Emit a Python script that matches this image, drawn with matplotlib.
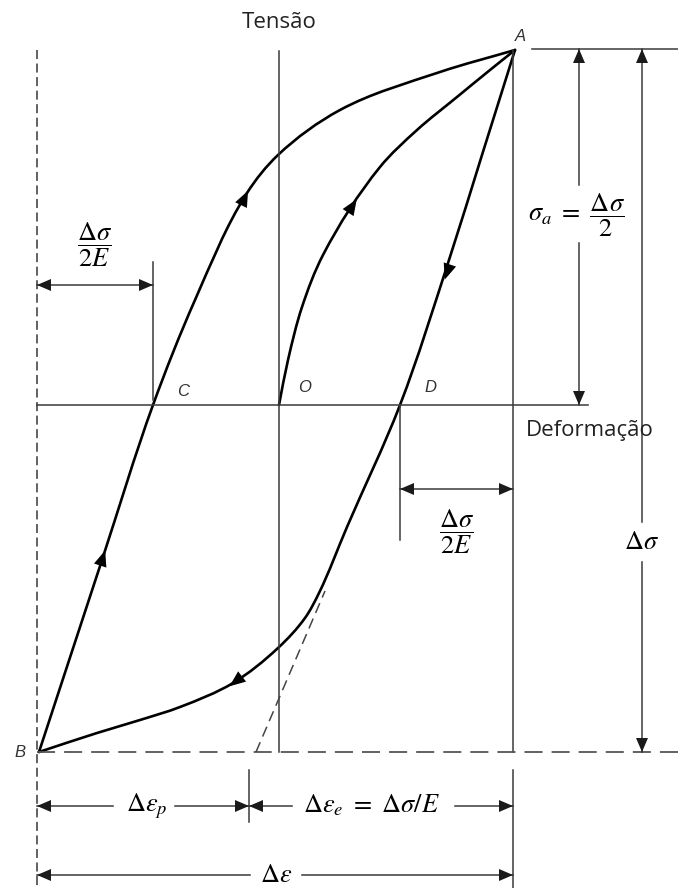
import numpy as np
import matplotlib
matplotlib.use("Agg")
import matplotlib.pyplot as plt
from matplotlib.patches import Polygon, PathPatch
from matplotlib.path import Path

plt.rcParams["font.family"] = ["Open Sans", "DejaVu Sans"]
plt.rcParams["mathtext.fontset"] = "stix"

# Hysteresis loop (strain, stress), origin at O
init_strain = [0, 9, 23, 44, 101, 138, 178, 211, 236]
init_stress = [0, 45, 98, 150, 238, 275, 308, 335, 355]

up_strain = [-240, -177, -126, -84, -32, -1, 61, 161, 236]
up_stress = [-347, -155, 0, 105, 212, 250, 295, 333, 355]

down_strain = [236, 203, 170, 121, 68, 40, 26, -1, -46, -99, -139, -182, -240]
down_stress = [355, 250, 145, 0, -122, -188, -213, -243, -278, -302, -315, -328, -347]

# Key points of the cycle
A = (236, 355)
B = (-240, -347)
C = (-126, 0)
D = (121, 0)
elastic_line = ([-23, 46], [-347, -186])

fig = plt.figure(figsize=(6.78, 8.88), dpi=100)
ax = fig.add_axes([0, 0, 1, 1])
ax.set_xlim(-279, 399)
ax.set_ylim(-483, 405)
ax.axis("off")

THIN = dict(color="#3a3a3a", lw=1.1)
MATH = 19
XV = 234  # right-hand vertical reference line through A


def smooth_branch(xs, ys):
    """Draw a branch as a smooth Bezier path through its points."""
    p = np.column_stack([xs, ys]).astype(float)
    n = len(p)
    chords = np.diff(p, axis=0)
    lens = np.hypot(chords[:, 0], chords[:, 1])
    units = chords / lens[:, None]
    tang = np.zeros_like(p)
    tang[0], tang[-1] = units[0], units[-1]
    for i in range(1, n - 1):
        t = units[i - 1] + units[i]
        tang[i] = t / np.hypot(*t)
    verts, codes = [p[0]], [Path.MOVETO]
    for i in range(n - 1):
        h = lens[i] / 3
        verts += [p[i] + tang[i] * h, p[i + 1] - tang[i + 1] * h, p[i + 1]]
        codes += [Path.CURVE4] * 3
    ax.add_patch(PathPatch(Path(verts, codes), fill=False, edgecolor="black",
                           lw=1.9, capstyle="round", joinstyle="round"))


def head(tip, direction, length=14, width=12, color="#1a1a1a"):
    d = np.asarray(direction, float)
    d /= np.hypot(*d)
    nrm = np.array([-d[1], d[0]])
    tip = np.asarray(tip, float)
    base = tip - d * length
    pts = [tip, base + nrm * width / 2, base - nrm * width / 2]
    ax.add_patch(Polygon(pts, closed=True, color=color, lw=0, zorder=5))


def curve_head(xs, ys, at):
    pts = np.column_stack([xs, ys]).astype(float)
    at = np.asarray(at, float)
    best, seg = 1e9, 0
    for i in range(len(pts) - 1):
        a, b = pts[i], pts[i + 1]
        t = np.clip(np.dot(at - a, b - a) / np.dot(b - a, b - a), 0, 1)
        dist = np.hypot(*(a + t * (b - a) - at))
        if dist < best:
            best, seg = dist, i
    d = pts[seg + 1] - pts[seg]
    d /= np.hypot(*d)
    head(at + d * 7, d, length=16, width=13, color="black")


# Axes and reference lines
ax.plot([B[0] - 2, B[0] - 2], [A[1], -483], ls=(0, (5, 2.5)), color="#555555", lw=1.3)
ax.plot([0, 0], [A[1] - 1, B[1]], **THIN)
ax.plot([B[0] - 2, 309], [0, 0], **THIN)
ax.plot([XV, XV], [A[1], B[1]], **THIN)
ax.plot([XV, XV], [-365, -483], **THIN)
ax.plot([253, 399], [A[1] + 1, A[1] + 1], **THIN)
ax.plot([B[0] - 2, 399], [B[1], B[1]], ls=(0, (10, 5)), color="#555555", lw=1.3)
ax.plot(*elastic_line, ls=(0, (7, 4)), color="#444444", lw=1.1)

# Loop branches
smooth_branch(init_strain, init_stress)
smooth_branch(up_strain, up_stress)
smooth_branch(down_strain, down_stress)
curve_head(up_strain, up_stress, (-176, -152))
curve_head(up_strain, up_stress, (-34, 208))
curve_head(init_strain, init_stress, (74, 200))
curve_head(down_strain, down_stress, (168, 132))
curve_head(down_strain, down_stress, (-44, -277))

# Stress amplitude and range
xa = 300
ax.plot([xa, xa], [A[1] + 1, 220], **THIN)
ax.plot([xa, xa], [162, 0], **THIN)
head((xa, A[1] + 1), (0, 1))
head((xa, 0), (0, -1))
ax.text(298, 190, r"$\sigma_a\ =\ \dfrac{\Delta\sigma}{2}$", fontsize=MATH,
        ha="center", va="center")

xr = 363
ax.plot([xr, xr], [A[1] + 1, -117], **THIN)
ax.plot([xr, xr], [-157, B[1]], **THIN)
head((xr, A[1] + 1), (0, 1))
head((xr, B[1]), (0, -1))
ax.text(xr, -137, r"$\Delta\sigma$", fontsize=MATH, ha="center", va="center")

# Half elastic strain offsets
ax.plot([C[0], C[0]], [143, 5], **THIN)
ax.plot([B[0] - 2, C[0]], [120, 120], **THIN)
head((B[0] - 2, 120), (-1, 0))
head((C[0], 120), (1, 0))
ax.text(-184, 160, r"$\dfrac{\Delta\sigma}{2E}$", fontsize=MATH, ha="center", va="center")

ax.plot([D[0], D[0]], [0, -135], **THIN)
ax.plot([D[0], XV], [-84, -84], **THIN)
head((D[0], -84), (-1, 0))
head((XV, -84), (1, 0))
ax.text(178, -127, r"$\dfrac{\Delta\sigma}{2E}$", fontsize=MATH, ha="center", va="center")

# Strain ranges
xt = -30
ax.plot([xt, xt], [-365, -417], **THIN)
yp = -401
ax.plot([B[0] - 2, -166], [yp, yp], **THIN)
ax.plot([-104, xt], [yp, yp], **THIN)
head((B[0] - 2, yp), (-1, 0))
head((xt, yp), (1, 0))
ax.text(-132, yp, r"$\Delta\varepsilon_p$", fontsize=MATH, ha="center", va="center")

ax.plot([xt, 13], [yp, yp], **THIN)
ax.plot([176, XV], [yp, yp], **THIN)
head((xt, yp), (-1, 0))
head((XV, yp), (1, 0))
ax.text(92, yp, r"$\Delta\varepsilon_e\ =\ \Delta\sigma/E$", fontsize=MATH,
        ha="center", va="center")

yt = -470
ax.plot([B[0] - 2, -29], [yt, yt], **THIN)
ax.plot([23, XV], [yt, yt], **THIN)
head((B[0] - 2, yt), (-1, 0))
head((XV, yt), (1, 0))
ax.text(-3, yt, r"$\Delta\varepsilon$", fontsize=MATH, ha="center", va="center")

# Axis titles and point labels
ax.text(0, 383, "Tensão", fontsize=16, ha="center", va="center", color="#222222")
ax.text(311, -25, "Deformação", fontsize=16, ha="center", va="center", color="#222222")
lab = dict(fontsize=12, ha="center", va="center", style="italic",
           family=["Liberation Sans", "DejaVu Sans"], color="#333333")
ax.text(241, 369, "A", **lab)
ax.text(-259, -347, "B", **lab)
ax.text(-96, 14, "C", **lab)
ax.text(26, 18, "O", **lab)
ax.text(151, 18, "D", **lab)

fig.savefig("out.png", dpi=100)
